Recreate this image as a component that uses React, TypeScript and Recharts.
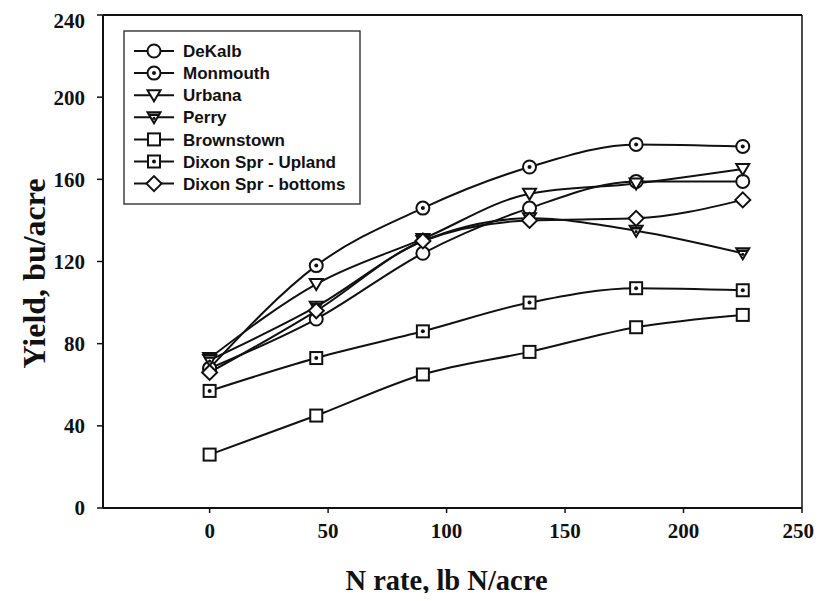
import React from 'react'
import { LineChart, Line, XAxis, YAxis, ReferenceLine, Label } from 'recharts'

const nRates = [0, 45, 90, 135, 180, 225]

const deKalb = [68, 92, 124, 146, 159, 159]
const monmouth = [68, 118, 146, 166, 177, 176]
const urbana = [73, 109, 131, 153, 158, 165]
const perry = [72, 98, 130, 141, 135, 124]
const brownstown = [26, 45, 65, 76, 88, 94]
const dixonUpland = [57, 73, 86, 100, 107, 106]
const dixonBottoms = [66, 96, 130, 140, 141, 150]

const xTicks = [0, 50, 100, 150, 200, 250]
const yTicks = [0, 40, 80, 120, 160, 200, 240]

const INK = '#111'

type MarkerKind = 'circle' | 'dotCircle' | 'triangle' | 'triangleBar' | 'square' | 'dotSquare' | 'diamond'

const series: { key: string; name: string; values: number[]; marker: MarkerKind }[] = [
  { key: 'deKalb', name: 'DeKalb', values: deKalb, marker: 'circle' },
  { key: 'monmouth', name: 'Monmouth', values: monmouth, marker: 'dotCircle' },
  { key: 'urbana', name: 'Urbana', values: urbana, marker: 'triangle' },
  { key: 'perry', name: 'Perry', values: perry, marker: 'triangleBar' },
  { key: 'brownstown', name: 'Brownstown', values: brownstown, marker: 'square' },
  { key: 'dixonUpland', name: 'Dixon Spr - Upland', values: dixonUpland, marker: 'dotSquare' },
  { key: 'dixonBottoms', name: 'Dixon Spr - bottoms', values: dixonBottoms, marker: 'diamond' },
]

const data = nRates.map((rate, i) => {
  const row: Record<string, number> = { rate }
  series.forEach(s => { row[s.key] = s.values[i] })
  return row
})

function Marker({ kind, cx, cy }: { kind: MarkerKind; cx: number; cy: number }) {
  const sw = 2
  switch (kind) {
    case 'circle':
      return <circle cx={cx} cy={cy} r={6.5} fill="#fff" stroke={INK} strokeWidth={sw} />
    case 'dotCircle':
      return (
        <g>
          <circle cx={cx} cy={cy} r={6.5} fill="#fff" stroke={INK} strokeWidth={sw} />
          <circle cx={cx} cy={cy} r={2} fill={INK} />
        </g>
      )
    case 'triangle':
      return <polygon points={`${cx - 6.5},${cy - 5} ${cx + 6.5},${cy - 5} ${cx},${cy + 6}`} fill="#fff" stroke={INK} strokeWidth={sw} />
    case 'triangleBar':
      return (
        <g>
          <polygon points={`${cx - 6.5},${cy - 5} ${cx + 6.5},${cy - 5} ${cx},${cy + 6}`} fill="#fff" stroke={INK} strokeWidth={sw} />
          <line x1={cx - 5} y1={cy - 2.5} x2={cx + 5} y2={cy - 2.5} stroke={INK} strokeWidth={2.5} />
          <circle cx={cx} cy={cy + 1} r={1.6} fill={INK} />
        </g>
      )
    case 'square':
      return <rect x={cx - 6} y={cy - 6} width={12} height={12} fill="#fff" stroke={INK} strokeWidth={sw} />
    case 'dotSquare':
      return (
        <g>
          <rect x={cx - 6} y={cy - 6} width={12} height={12} fill="#fff" stroke={INK} strokeWidth={sw} />
          <circle cx={cx} cy={cy} r={2} fill={INK} />
        </g>
      )
    case 'diamond':
      return <polygon points={`${cx},${cy - 7.5} ${cx + 7.5},${cy} ${cx},${cy + 7.5} ${cx - 7.5},${cy}`} fill="#fff" stroke={INK} strokeWidth={sw} />
  }
}

const makeDot = (kind: MarkerKind) => (props: any) => {
  const { cx, cy, index } = props
  if (cx == null || cy == null) return <g key={index} />
  return <g key={`${kind}-${index}`}><Marker kind={kind} cx={cx} cy={cy} /></g>
}

// legend drawn over the plot, top-left corner
function LegendBox() {
  const rowGap = 22.1
  return (
    <svg width={238} height={175} style={{ display: 'block' }}>
      <rect x={1} y={1} width={236} height={173} fill="#fff" stroke="#333" strokeWidth={1.4} />
      {series.map((s, i) => {
        const y = 21 + i * rowGap
        return (
          <g key={s.key}>
            <line x1={11} y1={y} x2={51} y2={y} stroke={INK} strokeWidth={2} />
            <Marker kind={s.marker} cx={31} cy={y} />
            <text x={60} y={y} dy="0.36em" fontFamily="'Liberation Sans', Arial, sans-serif" fontWeight="bold" fontSize={17} fill={INK}>
              {s.name}
            </text>
          </g>
        )
      })}
    </svg>
  )
}

const tickStyle = { fontFamily: "'Liberation Serif', 'Times New Roman', serif", fontWeight: 'bold' as const, fontSize: 21, fill: INK }
const xTitleStyle = { fontFamily: "'Liberation Serif', 'Times New Roman', serif", fontWeight: 'bold' as const, fontSize: 28.5, fill: INK }
const yTitleStyle = { ...xTitleStyle, fontSize: 32 }

export default function App() {
  return (
    <div style={{ position: 'relative', width: 806, height: 585 }}>
      <style>{'.recharts-surface, .recharts-wrapper { overflow: visible !important; }'}</style>
      <LineChart width={806} height={585} data={data} margin={{ top: 7, right: 12, left: 0, bottom: 5 }}>
        <XAxis
          dataKey="rate"
          type="number"
          domain={[-45, 250]}
          ticks={xTicks}
          allowDataOverflow
          height={80}
          tickSize={5}
          tickMargin={10}
          tick={tickStyle}
          axisLine={{ stroke: INK, strokeWidth: 2 }}
          tickLine={{ stroke: INK, strokeWidth: 1.5 }}
        >
          <Label value="N rate, lb N/acre" position="center" dx={-6} dy={32} style={xTitleStyle} />
        </XAxis>
        <YAxis
          type="number"
          domain={[0, 240]}
          ticks={yTicks}
          width={95}
          tickSize={6}
          tickMargin={12}
          tick={tickStyle}
          axisLine={{ stroke: INK, strokeWidth: 2 }}
          tickLine={{ stroke: INK, strokeWidth: 1.5 }}
        >
          <Label value="Yield, bu/acre" position="center" angle={-90} dx={-22} dy={12} style={yTitleStyle} />
        </YAxis>
        <ReferenceLine y={240} stroke={INK} strokeWidth={2} />
        <ReferenceLine x={250} stroke={INK} strokeWidth={1.5} />
        {series.map(s => (
          <Line
            key={s.key}
            dataKey={s.key}
            name={s.name}
            type="monotone"
            stroke={INK}
            strokeWidth={2}
            dot={makeDot(s.marker)}
            activeDot={false}
            isAnimationActive={false}
          />
        ))}
      </LineChart>
      <div style={{ position: 'absolute', left: 115, top: 22 }}>
        <LegendBox />
      </div>
    </div>
  )
}
